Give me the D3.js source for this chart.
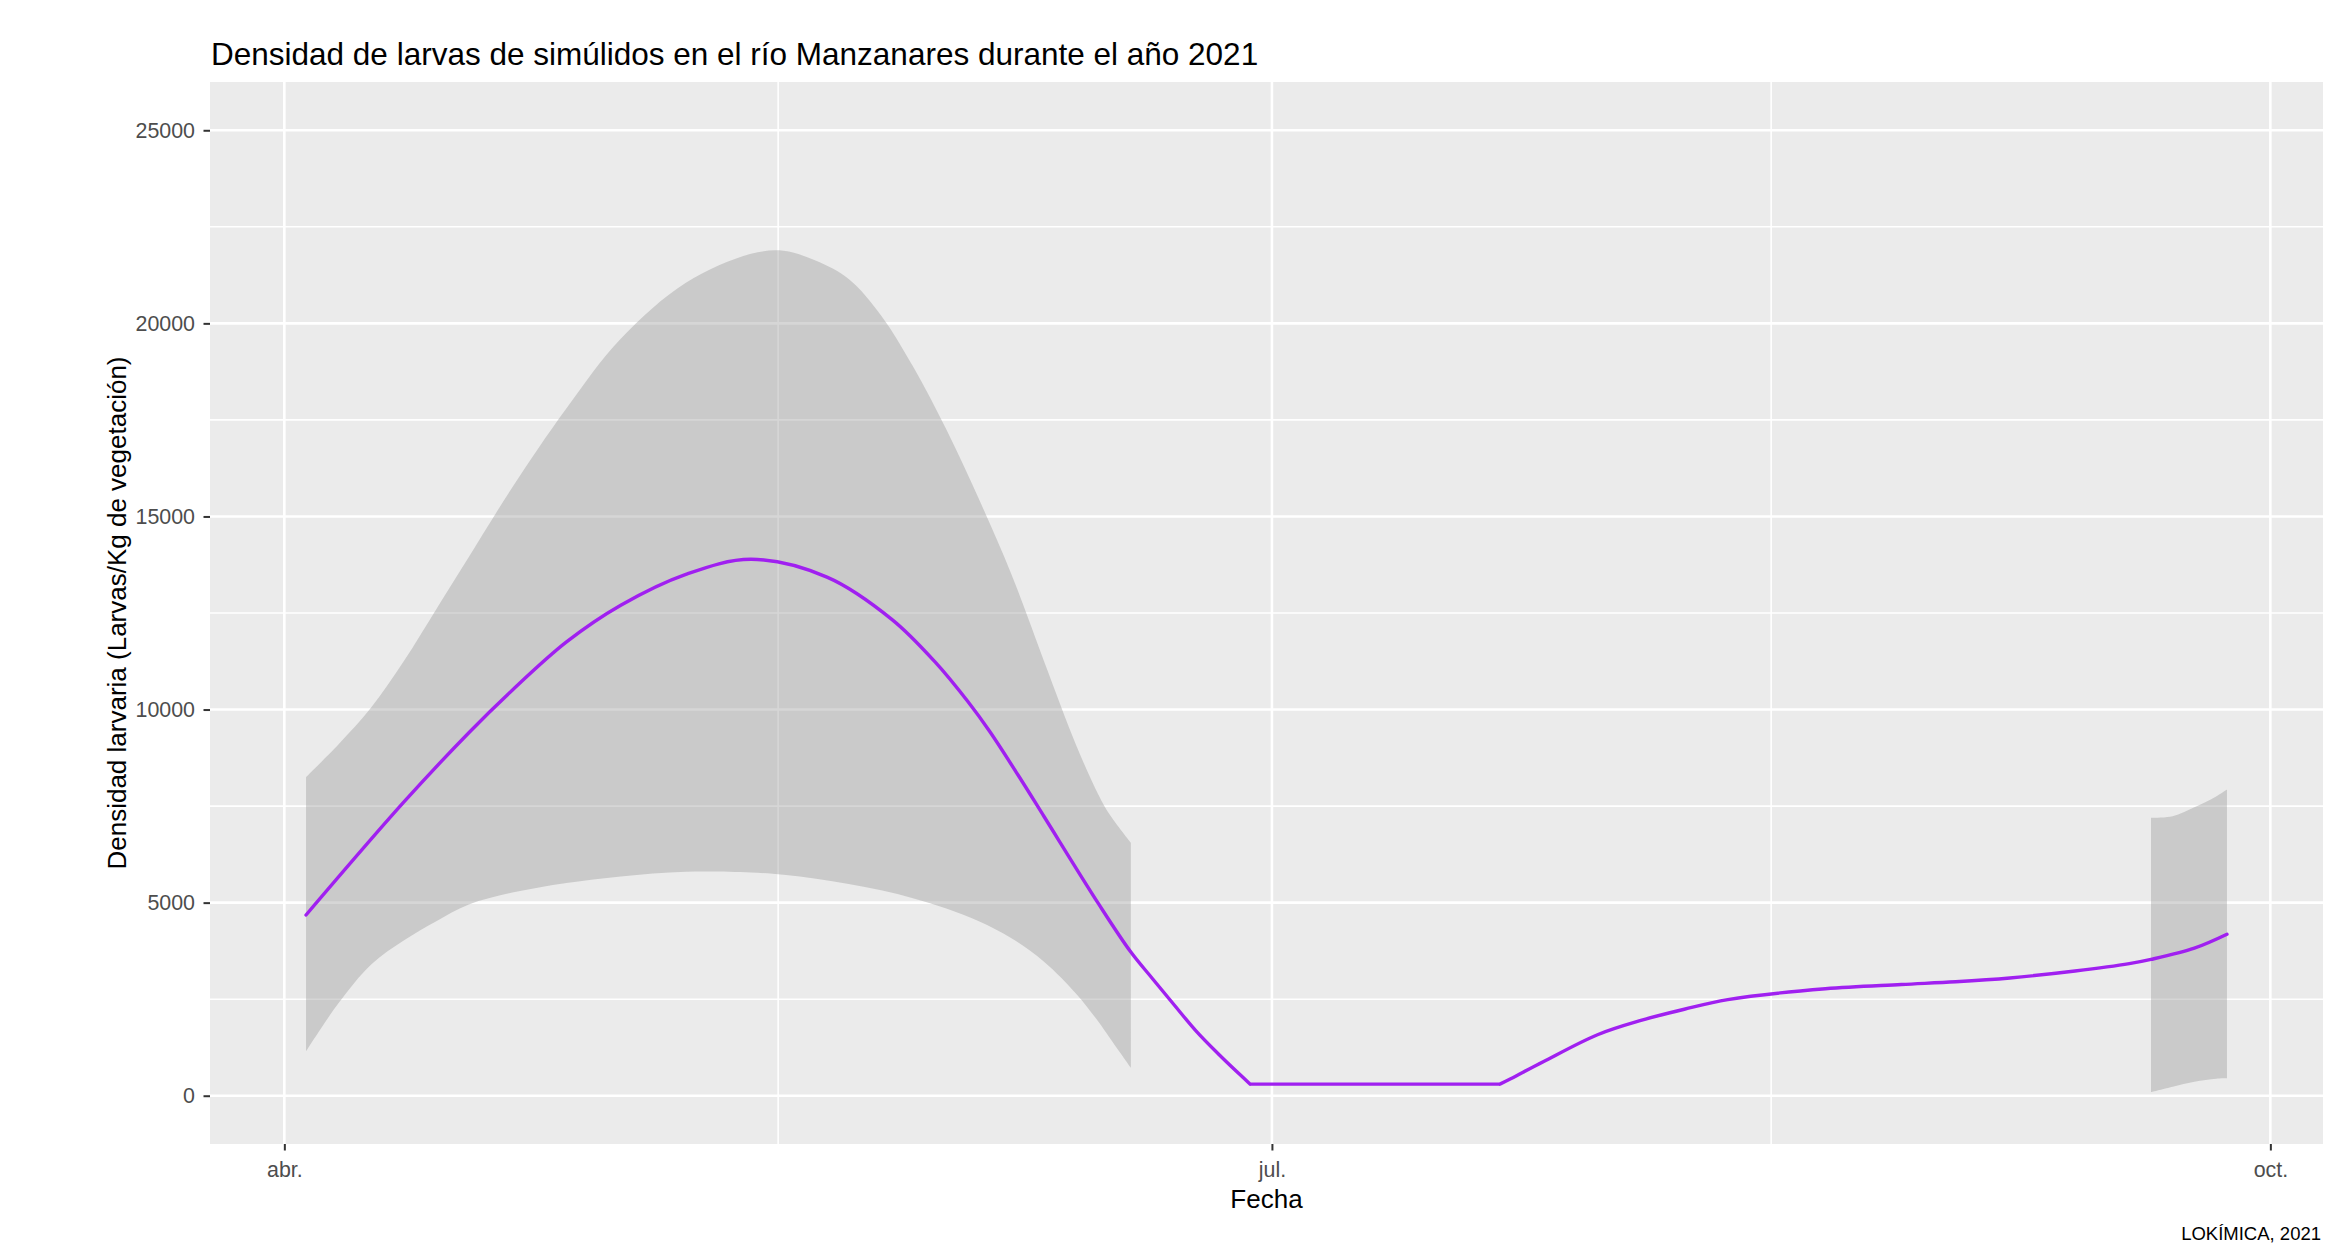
<!DOCTYPE html>
<html>
<head>
<meta charset="utf-8">
<script src="https://cdn.jsdelivr.net/npm/d3@7"></script>
<style>
  html, body { margin: 0; padding: 0; background: #ffffff; }
  svg { display: block; }
  text { font-family: "Liberation Sans", Arial, Helvetica, sans-serif; }
</style>
</head>
<body>
<svg id="chart" width="2334" height="1244"></svg>
<script>
// ---------------- DATA ----------------
const chartTitle = "Densidad de larvas de simúlidos en el río Manzanares durante el año 2021";
const xTitle = "Fecha";
const yTitle = "Densidad larvaria (Larvas/Kg de vegetación)";
const caption = "LOKÍMICA, 2021";

// smoothed curve (geom_smooth fit)
const lineDates = [
  "2021-04-03","2021-04-12","2021-04-18","2021-04-22","2021-04-27","2021-05-02",
  "2021-05-08","2021-05-14","2021-05-21","2021-05-27","2021-05-31","2021-06-03",
  "2021-06-05","2021-06-08","2021-06-10","2021-06-15","2021-06-18","2021-06-20",
  "2021-06-22","2021-06-24","2021-06-26","2021-06-28","2021-06-29","2021-07-22",
  "2021-07-23","2021-07-26","2021-07-31","2021-08-04","2021-08-08","2021-08-12",
  "2021-08-21","2021-08-28","2021-09-02","2021-09-07","2021-09-13","2021-09-18",
  "2021-09-20","2021-09-24","2021-09-27"
];
const lineValues = [
  4680, 7600, 9400, 10500, 11750, 12700,
  13500, 13890, 13430, 12330, 11220, 10200,
  9430, 8130, 7230, 4980, 3720, 3030,
  2350, 1680, 1100, 560, 300, 300,
  440, 880, 1580, 1950, 2240, 2490,
  2770, 2880, 2950, 3050, 3230, 3420,
  3530, 3820, 4180
];

// confidence band, first segment
const band1Dates = [
  "2021-04-03","2021-04-06","2021-04-09","2021-04-12","2021-04-15","2021-04-18",
  "2021-04-22","2021-04-27","2021-05-02","2021-05-08","2021-05-14","2021-05-17",
  "2021-05-20","2021-05-23","2021-05-26","2021-05-29","2021-06-01","2021-06-04",
  "2021-06-07","2021-06-10","2021-06-13","2021-06-15","2021-06-16","2021-06-18"
];
const band1Upper = [
  8250, 9100, 10050, 11250, 12600, 13950,
  15750, 17800, 19600, 21050, 21800, 21880,
  21620, 21150, 20200, 18850, 17250, 15450,
  13500, 11250, 9050, 7800, 7300, 6550
];
const band1Lower = [
  1150, 2400, 3400, 4020, 4520, 4950,
  5260, 5510, 5680, 5800, 5780, 5720,
  5620, 5480, 5320, 5110, 4850, 4520,
  4080, 3470, 2630, 1920, 1520, 724
];

// confidence band, second segment
const band2Dates = ["2021-09-20","2021-09-22","2021-09-24","2021-09-26","2021-09-27"];
const band2Upper = [7200, 7240, 7470, 7750, 7930];
const band2Lower = [90, 230, 360, 440, 450];

// axes
const yLimits = [0, 25000];
const yMajorTicks = [0, 5000, 10000, 15000, 20000, 25000];
const yMinorTicks = [2500, 7500, 12500, 17500, 22500];
const xMajorDates = ["2021-04-01", "2021-07-01", "2021-10-01"];
const xTickLabels = ["abr.", "jul.", "oct."];

// ---------------- CHART ----------------
const parse = d3.utcParse("%Y-%m-%d");
const svg = d3.select("#chart");
const panel = { left: 210, top: 82, right: 2323, bottom: 1144 };
const FONT = '"Liberation Sans", Arial, Helvetica, sans-serif';

const lineD = lineDates.map(parse);
const ext = d3.extent(lineD);
const span = ext[1] - ext[0];
const x = d3.scaleUtc()
  .domain([new Date(+ext[0] - 0.05 * span), new Date(+ext[1] + 0.05 * span)])
  .range([panel.left, panel.right]);

const yr = yLimits[1] - yLimits[0];
const y = d3.scaleLinear()
  .domain([yLimits[0] - 0.05 * yr, yLimits[1] + 0.05 * yr])
  .range([panel.bottom, panel.top]);

const xMajor = xMajorDates.map(parse);
const xMinor = d3.pairs(xMajor).map(([a, b]) => new Date((+a + +b) / 2));

// panel background
svg.append("rect")
  .attr("x", panel.left).attr("y", panel.top)
  .attr("width", panel.right - panel.left).attr("height", panel.bottom - panel.top)
  .attr("fill", "#EBEBEB");

svg.append("clipPath").attr("id", "pclip").append("rect")
  .attr("x", panel.left).attr("y", panel.top)
  .attr("width", panel.right - panel.left).attr("height", panel.bottom - panel.top);

const grid = svg.append("g").attr("clip-path", "url(#pclip)");
grid.selectAll(".hmin").data(yMinorTicks).join("line")
  .attr("x1", panel.left).attr("x2", panel.right)
  .attr("y1", d => y(d)).attr("y2", d => y(d))
  .attr("stroke", "#ffffff").attr("stroke-width", 1.6);
grid.selectAll(".vmin").data(xMinor).join("line")
  .attr("y1", panel.top).attr("y2", panel.bottom)
  .attr("x1", d => x(d)).attr("x2", d => x(d))
  .attr("stroke", "#ffffff").attr("stroke-width", 1.6);
grid.selectAll(".hmaj").data(yMajorTicks).join("line")
  .attr("x1", panel.left).attr("x2", panel.right)
  .attr("y1", d => y(d)).attr("y2", d => y(d))
  .attr("stroke", "#ffffff").attr("stroke-width", 2.6);
grid.selectAll(".vmaj").data(xMajor).join("line")
  .attr("y1", panel.top).attr("y2", panel.bottom)
  .attr("x1", d => x(d)).attr("x2", d => x(d))
  .attr("stroke", "#ffffff").attr("stroke-width", 2.6);

// ribbons
const area = d3.area()
  .x(d => x(d.date)).y0(d => y(d.lo)).y1(d => y(d.hi))
  .curve(d3.curveCatmullRom.alpha(0.5));
const band1 = band1Dates.map((d, i) => ({ date: parse(d), hi: band1Upper[i], lo: band1Lower[i] }));
const band2 = band2Dates.map((d, i) => ({ date: parse(d), hi: band2Upper[i], lo: band2Lower[i] }));
const plot = svg.append("g").attr("clip-path", "url(#pclip)");
[band1, band2].forEach(b => {
  plot.append("path").datum(b).attr("d", area)
    .attr("fill", "#999999").attr("fill-opacity", 0.4);
});

// smooth line: split where the fit is flat so the corners stay sharp
const lineData = lineD.map((d, i) => ({ date: d, v: lineValues[i] }));
const segments = [];
let cur = [lineData[0]];
for (let i = 1; i < lineData.length; i++) {
  const flatPrev = lineData[i].v === lineData[i - 1].v;
  const lastFlat = cur.length > 1 && cur[cur.length - 1].v === cur[cur.length - 2].v;
  if (cur.length > 1 && flatPrev !== lastFlat) {
    segments.push({ pts: cur, flat: lastFlat });
    cur = [lineData[i - 1]];
  }
  cur.push(lineData[i]);
}
segments.push({ pts: cur, flat: cur.length > 1 && cur[1].v === cur[0].v });

const smoothLine = d3.line().x(d => x(d.date)).y(d => y(d.v)).curve(d3.curveCatmullRom.alpha(0.5));
const straightLine = d3.line().x(d => x(d.date)).y(d => y(d.v));
plot.append("path")
  .attr("d", segments.map(s => (s.flat ? straightLine : smoothLine)(s.pts)).join(""))
  .attr("fill", "none").attr("stroke", "#A020F0").attr("stroke-width", 3.4)
  .attr("stroke-linejoin", "round").attr("stroke-linecap", "round");

// axes
const yAxis = svg.append("g")
  .attr("transform", `translate(${panel.left},0)`)
  .call(d3.axisLeft(y).tickValues(yMajorTicks).tickFormat(d3.format("d")).tickSize(6.5).tickPadding(8.5));
const xAxis = svg.append("g")
  .attr("transform", `translate(0,${panel.bottom})`)
  .call(d3.axisBottom(x).tickValues(xMajor).tickFormat((d, i) => xTickLabels[i]).tickSize(6.5).tickPadding(11.5));
[yAxis, xAxis].forEach(a => {
  a.select(".domain").remove();
  a.selectAll(".tick line").attr("stroke", "#333333").attr("stroke-width", 2);
  a.selectAll(".tick text")
    .attr("fill", "#4D4D4D")
    .style("font-size", "21.4px")
    .style("font-family", FONT);
});

// titles
svg.append("text")
  .attr("x", panel.left + 1).attr("y", 65)
  .attr("font-size", 31.5).attr("fill", "#000")
  .text(chartTitle);

svg.append("text")
  .attr("x", (panel.left + panel.right) / 2).attr("y", 1208)
  .attr("text-anchor", "middle").attr("font-size", 26).attr("fill", "#000")
  .text(xTitle);

svg.append("text")
  .attr("transform", `translate(126,${(panel.top + panel.bottom) / 2}) rotate(-90)`)
  .attr("text-anchor", "middle").attr("font-size", 26).attr("fill", "#000")
  .text(yTitle);

svg.append("text")
  .attr("x", 2321).attr("y", 1240)
  .attr("text-anchor", "end").attr("font-size", 18.5).attr("fill", "#000")
  .text(caption);
</script>
</body>
</html>
